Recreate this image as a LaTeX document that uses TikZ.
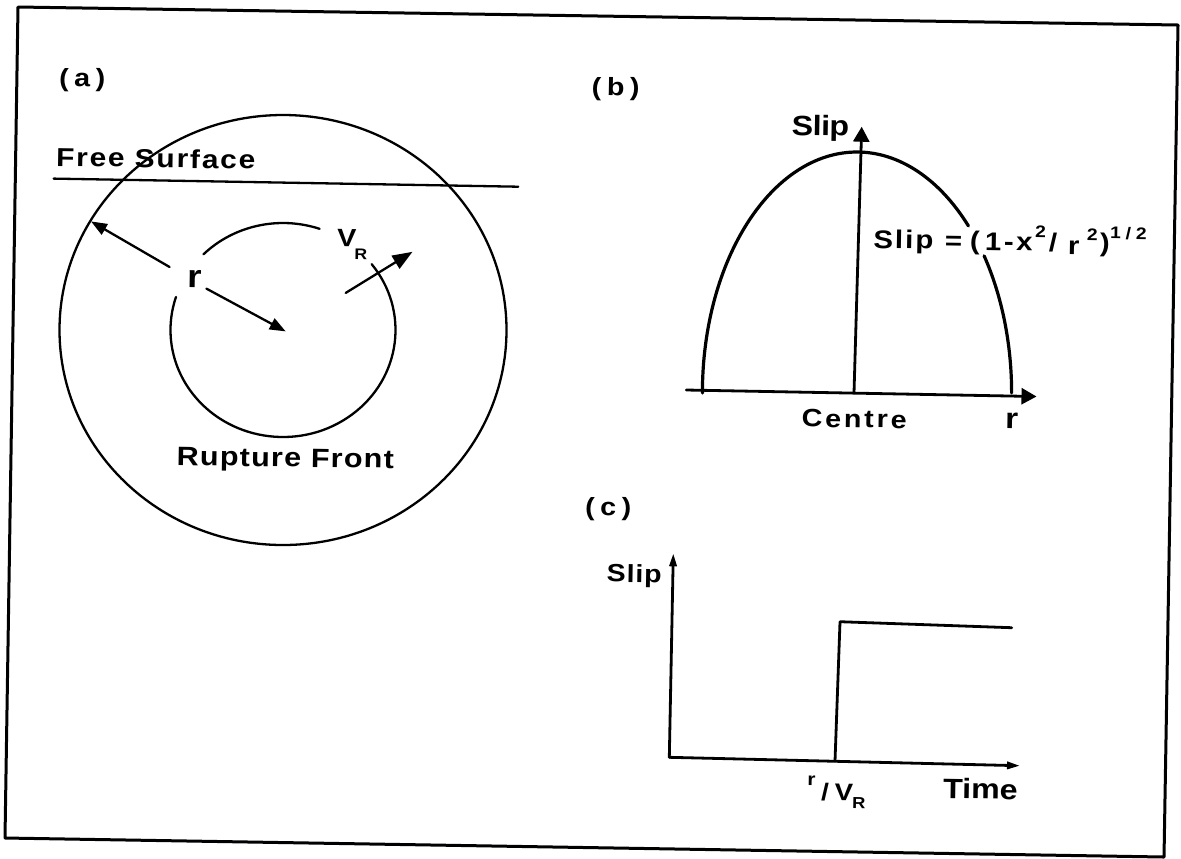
\documentclass[tikz,border=0pt]{standalone}
\usepackage{fontspec}
\setmainfont{Liberation Sans}[FakeStretch=1.15]
\usetikzlibrary{arrows.meta,calc}
\newcommand\fs[2]{\fontsize{#1}{#1}\bfseries\addfontfeatures{LetterSpace=#2}}
\newcommand\at[2]{\makebox[0pt][l]{\hspace*{#1pt}#2}}
\begin{document}
\begin{tikzpicture}[x=0.5pt,y=-0.5pt,line cap=round,line join=round,
  lbl/.style={inner sep=0pt,outer sep=0pt,anchor=base west,rotate=-0.9},
  frameline/.style={line width=1.5pt},
  thinline/.style={line width=1.15pt},
  axisline/.style={line width=1.4pt},
  curveline/.style={line width=1.6pt},
  bigtip/.style={-{Triangle[length=8pt,width=6pt]}},
  vrtip/.style={-{Triangle[length=10pt,width=7.5pt]}},
  btip/.style={-{Triangle[length=7.5pt,width=8pt]}},
  ctip/.style={-{Triangle[length=6.5pt,width=3.6pt]}}]
\useasboundingbox (0,0) rectangle (1181,858);
% frame
\draw[frameline] (18,7) -- (1178,25) -- (1164,857) -- (5,838) -- cycle;

% ---------- panel (a)
\node[lbl] (la) at (59,86) {\fs{12.5}{22}(a)};
\coordinate (fs1) at (53.6,178.6);
\coordinate (fs2) at (518.3,186.7);
\draw[thinline] (fs1) -- (fs2);
\node[lbl] (fstext) at (56,166) {\fs{13}{7}Free Surface};
\coordinate (C) at (283,330);
\draw[thinline] (C) ellipse [x radius=223.5, y radius=215];
\draw[thinline] ($(C)+(-135:112.5 and 107)$) arc[start angle=-135,end angle=-71,x radius=112.5,y radius=107];
\draw[thinline] ($(C)+(-38:112.5 and 107)$) arc[start angle=-38,end angle=198,x radius=112.5,y radius=107];
\coordinate (a1s) at (169.6,267);
\coordinate (a1e) at (91,221.4);
\draw[thinline,bigtip] (a1s) -- (a1e);
\coordinate (a2s) at (206.4,288.6);
\coordinate (a2e) at (285.7,331.4);
\draw[thinline,bigtip] (a2s) -- (a2e);
\coordinate (a3s) at (345.7,292.9);
\coordinate (a3e) at (412.5,251.8);
\draw[thinline,vrtip] (a3s) -- (a3e);
\node[lbl] (rlabel) at (187,287.5) {\fs{16}{0}r};
\node[lbl] (vrlabel) at (337,246.4) {\fs{12.5}{0}V\kern-0.8pt\raisebox{-6.3pt}{\fs{7.7}{0}R}};
\node[lbl] (rupt) at (176.7,465) {\fs{13.3}{4.5}Rupture Front};

% ---------- panel (b)
\node[lbl] (lb) at (591.7,95) {\fs{12.5}{22}(b)};
\coordinate (bO) at (686.3,390);
\coordinate (bX) at (1036.5,396.5);
\draw[axisline,btip] (bO) -- (bX);
\coordinate (bV0) at (854,392.7);
\coordinate (bV1) at (861.7,126.7);
\draw[axisline,btip] (bV0) -- (bV1);
\coordinate (bC) at (857,393);
\draw[curveline] ($(bC)+(-180:154.6 and 241)$) arc[start angle=-180,end angle=-43.9,x radius=154.6,y radius=241];
\draw[curveline] ($(bC)+(-34.7:154.6 and 241)$) arc[start angle=-34.7,end angle=0,x radius=154.6,y radius=241];
\node[lbl] (slipb) at (791.7,135) {\fs{14}{-2}Slip};
\node[lbl] (formula) at (873.3,248.3) {\fs{12.8}{8}\at{0}{Slip}\at{35.8}{=}\at{48.3}{(}\at{55.8}{\addfontfeatures{LetterSpace=10}1-x}\at{80.8}{\fs{8.4}{0}\raisebox{6.6pt}{2}}\at{87.8}{/}\at{97.3}{\raisebox{-1.7pt}{r}}\at{106.7}{\fs{8.4}{0}\raisebox{5.5pt}{2}}\at{113.3}{)}\at{118.3}{\fs{8.4}{29}\raisebox{6.6pt}{1/2}}\hspace*{137pt}};
\node[lbl] (centre) at (801.7,426.7) {\fs{12.5}{11}Centre};
\node[lbl] (rb) at (1005,428) {\fs{14.5}{0}r};

% ---------- panel (c)
\node[lbl] (lc) at (585,515) {\fs{12.5}{22}(c)};
\coordinate (cO) at (669.3,757.3);
\coordinate (cX) at (1020,765.7);
\coordinate (cY) at (673.3,553.3);
\draw[axisline,ctip] (cO) -- (cX);
\draw[axisline,ctip] (cO) -- (cY);
\coordinate (s1) at (835,761);
\coordinate (s2) at (840,621.7);
\coordinate (s3) at (1011.7,627.7);
\draw[axisline] (s1) -- (s2) -- (s3);
\node[lbl] (slipc) at (606.7,581.7) {\fs{12.4}{3.6}Slip};
\node[lbl] (rvr) at (807,800) {\fs{12}{0}\raisebox{7.5pt}{\fs{9}{0}r}\hspace{3pt}/\hspace{3pt}V\kern-0.5pt\raisebox{-4pt}{\fs{8}{0}R}};
\node[lbl] (time) at (943,798.3) {\fs{14}{0}Time};
\end{tikzpicture}
\end{document}
